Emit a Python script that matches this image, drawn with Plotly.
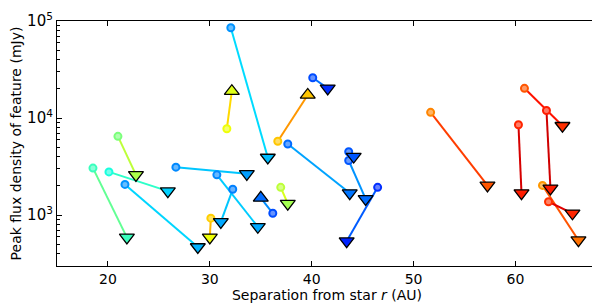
import numpy as np
import plotly.graph_objects as go

# Start (circle) and end (triangle) of each feature track
r_start = [18.53, 20.98, 20.10, 21.67, 26.67, 30.69, 32.25, 30.10, 36.18, 36.96, 32.06, 31.67,
           36.67, 40.10, 37.65, 43.63, 43.63, 46.47, 51.67, 60.29, 60.88, 63.04, 62.65, 63.24]
f_start = [3055, 6487, 2793, 2075, 3126, 2606, 1849, 933, 1047, 1937, 85300, 7780,
           5780, 26070, 5410, 4500, 3660, 1937, 11460, 8540, 20270, 11990, 2028, 1377]
r_end = [21.86, 22.75, 25.88, 28.82, 33.63, 34.71, 31.08, 30.00, 35.00, 37.65, 35.69, 32.16,
         39.61, 41.57, 43.73, 44.12, 45.29, 43.43, 57.25, 60.59, 64.61, 63.43, 66.18, 65.59]
f_end = [592, 2606, 1770, 471, 2668, 760, 853, 592, 1507, 1315, 3928, 18930,
         17310, 20270, 1690, 4020, 1472, 541, 2028, 1690, 8340, 1892, 553, 1047]
# colour variable (0..1, jet colour map) of start and end points
c_start = [0.42, 0.50, 0.38, 0.27, 0.26, 0.26, 0.25, 0.69, 0.20, 0.58, 0.27, 0.64,
           0.70, 0.20, 0.23, 0.21, 0.21, 0.17, 0.77, 0.87, 0.82, 0.88, 0.75, 0.86]
c_end = [0.42, 0.56, 0.33, 0.30, 0.28, 0.29, 0.29, 0.64, 0.23, 0.55, 0.31, 0.62,
         0.70, 0.17, 0.24, 0.21, 0.23, 0.16, 0.82, 0.88, 0.86, 0.88, 0.79, 0.87]
# direction of flux change marker
direction = ["down", "down", "down", "down", "down", "down", "down", "down", "up", "down", "down", "up",
             "up", "down", "down", "down", "down", "down", "down", "down", "down", "down", "down", "down"]


def _rgb(v):
    r = np.interp(v, [0, 0.35, 0.66, 0.89, 1], [0, 0, 1, 1, 0.5])
    g = np.interp(v, [0, 0.125, 0.375, 0.64, 0.91, 1], [0, 0, 1, 1, 0, 0])
    b = np.interp(v, [0, 0.11, 0.34, 0.65, 1], [0.5, 1, 1, 0, 0])
    return r, g, b


def jet(v):
    return "rgb(%d,%d,%d)" % tuple(255 * x for x in _rgb(v))


def light(v, a=0.4):
    return "rgb(%d,%d,%d)" % tuple(255 * (x + (1 - x) * a) for x in _rgb(v))


fig = go.Figure()
for i in range(len(r_start)):
    fig.add_trace(go.Scatter(
        x=[r_start[i], r_end[i]], y=[f_start[i], f_end[i]], mode="lines",
        line=dict(color=jet((c_start[i] + c_end[i]) / 2 + 0.05), width=2),
        showlegend=False, hoverinfo="skip"))

fig.add_trace(go.Scatter(
    x=r_start, y=f_start, mode="markers", showlegend=False,
    marker=dict(symbol="circle", size=7,
                color=[light(c) for c in c_start],
                line=dict(color=[jet(c) for c in c_start], width=2))))

fig.add_trace(go.Scatter(
    x=r_end, y=f_end, mode="markers", showlegend=False,
    marker=dict(symbol=["triangle-up" if d == "up" else "triangle-down" for d in direction],
                size=13, color=[jet(c) for c in c_end],
                line=dict(color="black", width=1.3))))

minor_vals = [m * 10 ** k for k in (2, 3, 4) for m in range(2, 10)]
# page body has an 8px margin: figure is 592x296 placed at (8, 8)
fig.update_layout(
    width=592, height=296,
    margin=dict(l=49, r=2, t=5, b=38),
    paper_bgcolor="white", plot_bgcolor="white",
    font=dict(family="DejaVu Sans", size=14, color="black"),
    xaxis=dict(range=[15, 68], tickvals=[20, 30, 40, 50, 60],
               ticks="inside", ticklen=5, tickcolor="black", showline=True,
               linecolor="black", linewidth=1.2, mirror="ticks", showgrid=False,
               zeroline=False, tickfont=dict(size=14), automargin=False,
               title=dict(text="Separation from star <i>r</i> (AU)", font=dict(size=14), standoff=2)),
    yaxis=dict(type="log", range=[np.log10(300), 5.0],
               tickvals=[1e3, 1e4, 1e5], ticktext=["10<sup>3</sup>", "10<sup>4</sup>", "10<sup>5</sup>"],
               ticklabeloverflow="allow",
               ticks="inside", ticklen=5, tickcolor="black", showline=True,
               linecolor="black", linewidth=1.2, mirror="ticks", showgrid=False,
               zeroline=False, tickfont=dict(size=15),
               minor=dict(tickvals=minor_vals, ticks="inside", ticklen=2.5, tickcolor="black", showgrid=False),
               title=dict(text="Peak flux density of feature (mJy)", font=dict(size=14), standoff=6)),
)
fig.write_html("out.html")
